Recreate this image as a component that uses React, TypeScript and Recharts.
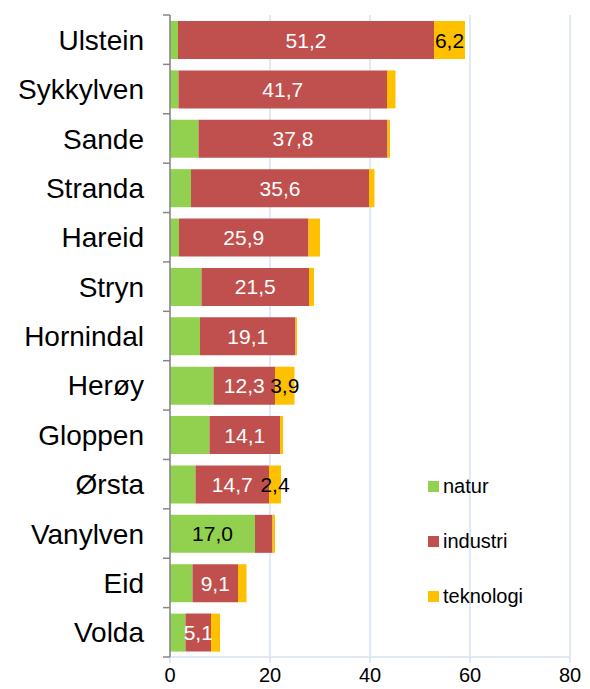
import { Bar, BarChart, CartesianGrid, LabelList, XAxis, YAxis } from 'recharts';

const CATEGORIES = ['Ulstein', 'Sykkylven', 'Sande', 'Stranda', 'Hareid', 'Stryn', 'Hornindal', 'Herøy', 'Gloppen', 'Ørsta', 'Vanylven', 'Eid', 'Volda'];
const NATUR = [1.6, 1.7, 5.7, 4.2, 1.8, 6.3, 6.0, 8.7, 7.9, 5.1, 17.0, 4.5, 3.1];
const INDUSTRI = [51.2, 41.7, 37.8, 35.6, 25.9, 21.5, 19.1, 12.3, 14.1, 14.7, 3.5, 9.1, 5.1];
const TEKNOLOGI = [6.2, 1.7, 0.5, 1.1, 2.3, 1.0, 0.3, 3.9, 0.6, 2.4, 0.5, 1.7, 1.8];
const X_TICKS = [0, 20, 40, 60, 80];

// which segments carry a value label
const NATUR_LABELED = ['Vanylven'];
const INDUSTRI_LABELED = CATEGORIES.filter((c) => c !== 'Vanylven');
const TEKNOLOGI_LABELED = ['Ulstein', 'Herøy', 'Ørsta'];

const GREEN = '#92D050';
const RED = '#C0504D';
const GOLD = '#FFC000';
const GRID = '#D9E2F0';
const AXIS = '#868686';
const FONT = '"Liberation Sans", Arial, sans-serif';

const SERIES = [
  { key: 'natur', color: GREEN },
  { key: 'industri', color: RED },
  { key: 'teknologi', color: GOLD },
];

const W = 590;
const H = 689;
const X_AXIS_H = 32;
const M = { top: 15, right: 20, bottom: 0, left: 0 };
const BAND = (H - M.top - M.bottom - X_AXIS_H) / CATEGORIES.length;

const data = CATEGORIES.map((name, i) => ({ name, natur: NATUR[i], industri: INDUSTRI[i], teknologi: TEKNOLOGI[i] }));

const fmt = (v: number) => v.toFixed(1).replace('.', ',');

function segLabel(shown: string[], fill: string) {
  return (p: any) => {
    const name = data[p.index]?.name;
    if (!shown.includes(name)) return null;
    const x = Number(p.x) + Number(p.width) / 2;
    const y = Number(p.y) + Number(p.height) / 2;
    return (
      <text x={x} y={y} dy="0.36em" textAnchor="middle" fill={fill} fontSize={21} fontFamily={FONT}>
        {fmt(Number(p.value))}
      </text>
    );
  };
}

function CategoryTick(props: any) {
  const { x, y, payload, index } = props;
  const last = index === CATEGORIES.length - 1;
  return (
    <g>
      <line x1={x - 7} x2={x} y1={y - BAND / 2} y2={y - BAND / 2} stroke={AXIS} strokeWidth={1.5} />
      {last && <line x1={x - 7} x2={x} y1={y + BAND / 2} y2={y + BAND / 2} stroke={AXIS} strokeWidth={1.5} />}
      <text x={x - 26} y={y} dy="0.36em" textAnchor="end" fill="#000" fontSize={28} fontFamily={FONT}>
        {payload.value}
      </text>
    </g>
  );
}

export default function App() {
  return (
    <div style={{ position: 'absolute', left: 0, top: 0, width: W, height: H, background: '#fff' }}>
      <BarChart width={W} height={H} data={data} layout="vertical" margin={M} barSize={38}>
        <CartesianGrid horizontal={false} stroke={GRID} strokeWidth={1.5} />
        <XAxis
          type="number"
          domain={[0, 80]}
          ticks={X_TICKS}
          height={X_AXIS_H}
          axisLine={{ stroke: GRID, strokeWidth: 1.5 }}
          tickLine={{ stroke: GRID, strokeWidth: 1.5 }}
          tickSize={6}
          tickMargin={5}
          tick={{ fill: '#000', fontSize: 20, fontFamily: FONT }}
        />
        <YAxis
          type="category"
          dataKey="name"
          width={170}
          axisLine={{ stroke: AXIS, strokeWidth: 1.5 }}
          tickLine={false}
          tickSize={0}
          tickMargin={0}
          interval={0}
          tick={<CategoryTick />}
        />
        <Bar dataKey="natur" name="natur" stackId="a" fill={GREEN} isAnimationActive={false}>
          <LabelList dataKey="natur" content={segLabel(NATUR_LABELED, '#000')} />
        </Bar>
        <Bar dataKey="industri" name="industri" stackId="a" fill={RED} isAnimationActive={false}>
          <LabelList dataKey="industri" content={segLabel(INDUSTRI_LABELED, '#fff')} />
        </Bar>
        <Bar dataKey="teknologi" name="teknologi" stackId="a" fill={GOLD} isAnimationActive={false}>
          <LabelList dataKey="teknologi" content={segLabel(TEKNOLOGI_LABELED, '#000')} />
        </Bar>
      </BarChart>
      <div style={{ position: 'absolute', left: 428, top: 459, fontFamily: FONT, fontSize: 20 }}>
        {SERIES.map((s) => (
          <div key={s.key} style={{ display: 'flex', alignItems: 'center', height: 55 }}>
            <span style={{ width: 11, height: 11, background: s.color, marginRight: 4, display: 'inline-block' }} />
            <span>{s.key}</span>
          </div>
        ))}
      </div>
    </div>
  );
}
